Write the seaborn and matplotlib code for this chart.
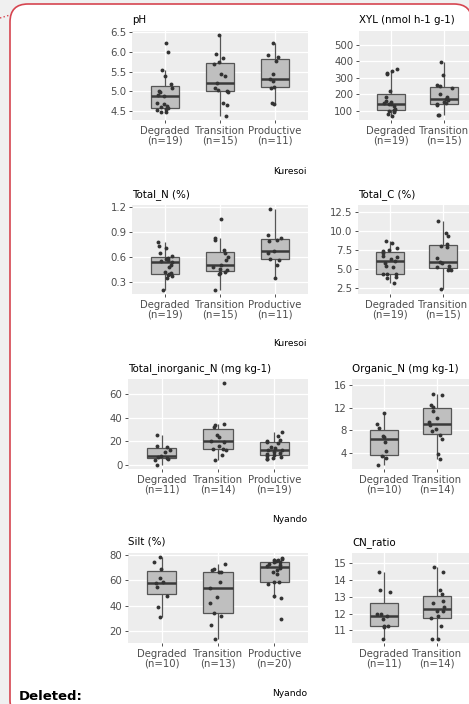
import numpy as np
import pandas as pd
import matplotlib
matplotlib.use("Agg")
import matplotlib.pyplot as plt
import seaborn as sns
from matplotlib.patches import FancyBboxPatch

# ---- data ----
groups = ["Degraded", "Transition", "Productive"]

ph_degraded = [6.22, 5.98, 5.55, 5.39, 5.19, 5.08, 5.02, 4.99, 4.92, 4.88, 4.72, 4.68, 4.62, 4.61, 4.57, 4.55, 4.52, 4.49, 4.48]
ph_transition = [6.42, 5.93, 5.85, 5.74, 5.68, 5.43, 5.38, 5.21, 5.08, 5.03, 5.02, 4.98, 4.70, 4.67, 4.38]
ph_productive = [6.22, 5.91, 5.87, 5.76, 5.44, 5.32, 5.27, 5.12, 5.08, 4.70, 4.68]

xyl_degraded = [352, 342, 330, 322, 222, 182, 162, 155, 148, 145, 140, 128, 112, 106, 103, 100, 92, 82, 68]
xyl_transition = [394, 316, 258, 250, 240, 202, 186, 172, 166, 156, 146, 142, 134, 78, 74]

totn_degraded = [0.78, 0.73, 0.71, 0.65, 0.61, 0.59, 0.57, 0.56, 0.55, 0.54, 0.50, 0.48, 0.42, 0.40, 0.39, 0.38, 0.37, 0.34, 0.20]
totn_transition = [1.06, 0.826, 0.806, 0.686, 0.645, 0.593, 0.557, 0.497, 0.477, 0.453, 0.437, 0.417, 0.405, 0.39, 0.204]
totn_productive = [1.18, 0.86, 0.83, 0.80, 0.79, 0.67, 0.65, 0.58, 0.56, 0.50, 0.35]

totc_degraded = [8.74, 8.53, 7.83, 7.48, 7.35, 7.10, 6.78, 6.60, 6.30, 6.04, 5.90, 5.47, 5.25, 4.45, 4.38, 4.33, 3.98, 3.85, 3.20]
totc_transition = [11.32, 9.75, 9.40, 8.30, 8.10, 7.90, 6.43, 6.02, 5.82, 5.50, 5.30, 5.10, 4.95, 4.86, 2.40]

inorg_degraded = [25.2, 16.1, 15.6, 12.7, 11.3, 7.6, 6.8, 6.0, 5.4, 4.2, 0.3]
inorg_transition = [69.3, 34.8, 33.7, 32.0, 25.5, 24.0, 20.5, 19.7, 16.1, 14.0, 13.3, 12.7, 8.2, 4.0]
inorg_productive = [28.3, 24.6, 21.2, 20.7, 19.8, 18.4, 15.6, 14.2, 13.0, 12.4, 11.3, 10.5, 9.1, 8.4, 7.8, 7.1, 6.2, 5.5, 4.8]

orgn_degraded = [11.0, 9.2, 8.4, 7.0, 6.8, 6.0, 4.4, 3.5, 3.2, 1.9]
orgn_transition = [14.4, 14.3, 12.5, 12.1, 11.4, 10.1, 9.5, 8.9, 8.3, 7.8, 7.2, 6.5, 3.9, 2.9]

silt_degraded = [78.1, 74.4, 68.9, 62.0, 58.5, 57.5, 54.9, 47.2, 39.0, 30.6]
silt_transition = [72.6, 68.6, 68.1, 66.5, 66.0, 58.3, 54.0, 46.4, 42.2, 34.3, 31.6, 24.8, 13.6]
silt_productive = [77.0, 76.6, 76.0, 75.5, 74.7, 74.4, 74.0, 72.6, 71.5, 70.7, 69.4, 67.6, 66.0, 64.4, 58.3, 58.1, 57.0, 47.5, 45.6, 29.2]

cn_degraded = [14.48, 13.41, 13.27, 12.0, 11.95, 11.88, 11.68, 11.28, 11.25, 11.20, 10.48]
cn_transition = [14.76, 14.48, 13.39, 13.15, 12.73, 12.65, 12.41, 12.15, 12.13, 11.85, 11.72, 11.24, 10.48, 10.45]

W, H = 469, 704
PANEL = "#ededed"
RED = "#d64550"

np.random.seed(3)


def rect(l, t, r, b):
    return [l / W, 1 - b / H, (r - l) / W, (b - t) / H]


def long_form(series):
    rows = [(g, v) for g, vals in series.items() for v in vals]
    return pd.DataFrame(rows, columns=["group", "value"])


def draw_panel(fig, box, title, series, yticks, ylim, fmt):
    ax = fig.add_axes(box)
    ax.set_facecolor(PANEL)
    order = list(series.keys())
    df = long_form(series)
    sns.boxplot(data=df, x="group", y="value", order=order, ax=ax, width=0.52,
                color="#bfbfbf", linecolor="#555555", linewidth=0.9, showfliers=False,
                showcaps=False, medianprops=dict(color="#3a3a3a", linewidth=1.8))
    sns.stripplot(data=df, x="group", y="value", order=order, ax=ax, jitter=0.15,
                  size=2.8, color="#333333", linewidth=0)
    ax.set_xlim(-0.6, 2.6)
    ax.set_ylim(*ylim)
    ax.set_yticks(yticks)
    ax.set_yticklabels([fmt.format(t) for t in yticks])
    ax.set_xticks(range(len(order)))
    ax.set_xticklabels([f"{g}\n(n={len(series[g])})" for g in order], linespacing=0.95)
    ax.grid(True, color="white", linewidth=0.9)
    ax.set_axisbelow(True)
    for s in ax.spines.values():
        s.set_visible(False)
    ax.set_xlabel("")
    ax.set_ylabel("")
    ax.tick_params(length=2.5, width=0.6, color="#333333", labelcolor="#4d4d4d",
                   labelsize=7.3, pad=1.5)
    ax.set_title(title, loc="left", fontsize=7.4, pad=6, color="black")
    return ax


fig = plt.figure(figsize=(W / 100, H / 100), dpi=100)
fig.patch.set_facecolor("#f0f0f0")

# document frame behind the figure
bg = fig.add_axes([0, 0, 1, 1])
bg.set_zorder(-1)
bg.set_xlim(0, W)
bg.set_ylim(H, 0)
bg.axis("off")
bg.add_patch(FancyBboxPatch((10, 4), 462, 714, boxstyle="round,pad=0,rounding_size=18",
                            facecolor="white", edgecolor=RED, linewidth=1.2))
bg.plot([0, 10], [18, 15], color=RED, linestyle=":", linewidth=1.0)

draw_panel(fig, rect(132, 31, 308, 120), "pH",
           {"Degraded": ph_degraded, "Transition": ph_transition, "Productive": ph_productive},
           [4.5, 5.0, 5.5, 6.0, 6.5], (4.28, 6.52), "{:.1f}")
draw_panel(fig, rect(359, 31, 529, 120), "XYL (nmol h-1 g-1)",
           {"Degraded": xyl_degraded, "Transition": xyl_transition},
           [100, 200, 300, 400, 500], (46, 582), "{:.0f}")
draw_panel(fig, rect(132, 205, 308, 294), "Total_N (%)",
           {"Degraded": totn_degraded, "Transition": totn_transition, "Productive": totn_productive},
           [0.3, 0.6, 0.9, 1.2], (0.15, 1.23), "{:.1f}")
draw_panel(fig, rect(358, 205, 528, 294), "Total_C (%)",
           {"Degraded": totc_degraded, "Transition": totc_transition},
           [2.5, 5.0, 7.5, 10.0, 12.5], (1.76, 13.46), "{:.1f}")
draw_panel(fig, rect(128, 379, 308, 469), "Total_inorganic_N (mg kg-1)",
           {"Degraded": inorg_degraded, "Transition": inorg_transition, "Productive": inorg_productive},
           [0, 20, 40, 60], (-3.4, 73.0), "{:.0f}")
draw_panel(fig, rect(352, 379, 522, 469), "Organic_N (mg kg-1)",
           {"Degraded": orgn_degraded, "Transition": orgn_transition},
           [4, 8, 12, 16], (1.18, 17.06), "{:.0f}")
draw_panel(fig, rect(128, 553, 308, 643), "Silt (%)",
           {"Degraded": silt_degraded, "Transition": silt_transition, "Productive": silt_productive},
           [20, 40, 60, 80], (10.5, 81.3), "{:.0f}")
draw_panel(fig, rect(352, 553, 522, 643), "CN_ratio",
           {"Degraded": cn_degraded, "Transition": cn_transition},
           [11, 12, 13, 14, 15], (10.24, 15.62), "{:.0f}")

for y, site in [(171, "Kuresoi"), (344, "Kuresoi"), (519, "Nyando"), (693, "Nyando")]:
    fig.text(307 / W, 1 - y / H, site, ha="right", va="center", fontsize=6.6, color="black")

fig.text(19 / W, 1 - 700 / H, "Deleted:", ha="left", va="baseline", fontsize=9.5,
         fontweight="bold", color="black")

fig.savefig("out.png", dpi=100)
